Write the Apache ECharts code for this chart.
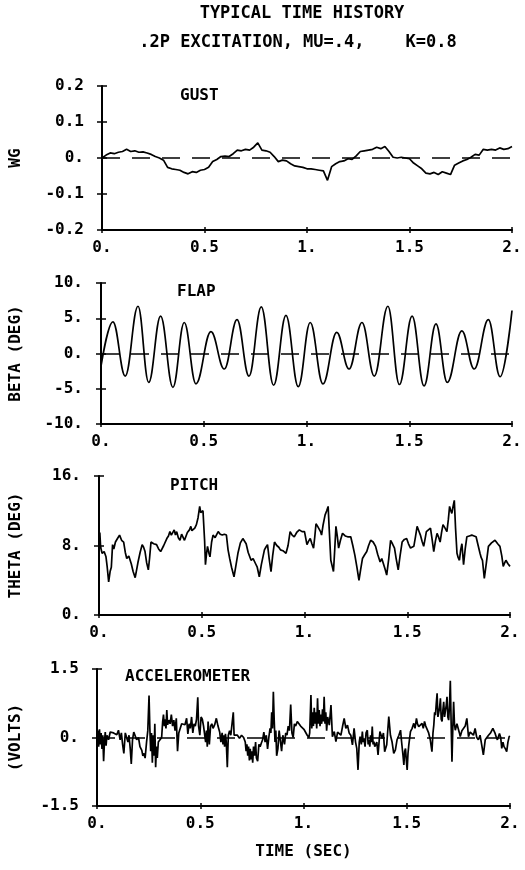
<!DOCTYPE html>
<html><head><meta charset="utf-8">
<script src="https://cdn.jsdelivr.net/npm/echarts@6/dist/echarts.min.js"></script>
<style>html,body{margin:0;padding:0;background:#fff}#c{width:525px;height:870px}</style>
</head><body><div id="c"></div>
<script>
// ---- tick labels ----
const xTickLabels = ['0.', '0.5', '1.', '1.5', '2.'];
const gustTickLabels = ['-0.2', '-0.1', '0.', '0.1', '0.2'];
const flapTickLabels = ['-10.', '-5.', '0.', '5.', '10.'];
const pitchTickLabels = ['0.', '8.', '16.'];
const accelTickLabels = ['-1.5', '0.', '1.5'];

// ---- series values: [time (sec), value] ----
const gustData = [
 [0.00,0.000],[0.02,0.008],[0.04,0.014],[0.06,0.012],[0.08,0.016],[0.10,0.018],[0.12,0.024],[0.14,0.018],
 [0.16,0.020],[0.18,0.016],[0.20,0.017],[0.22,0.014],[0.24,0.010],[0.26,0.004],[0.28,0.000],[0.30,-0.006],
 [0.32,-0.026],[0.34,-0.030],[0.36,-0.032],[0.38,-0.034],[0.40,-0.040],[0.42,-0.044],[0.44,-0.038],[0.46,-0.040],
 [0.48,-0.034],[0.50,-0.032],[0.52,-0.026],[0.54,-0.010],[0.56,-0.004],[0.58,0.004],[0.60,0.005],[0.62,0.004],
 [0.64,0.012],[0.66,0.022],[0.68,0.020],[0.70,0.024],[0.72,0.022],[0.74,0.030],[0.76,0.042],[0.78,0.022],
 [0.80,0.020],[0.82,0.016],[0.84,0.004],[0.86,-0.010],[0.88,-0.006],[0.90,-0.008],[0.92,-0.016],[0.94,-0.022],
 [0.96,-0.024],[0.98,-0.026],[1.00,-0.030],[1.02,-0.030],[1.04,-0.032],[1.06,-0.034],[1.08,-0.036],[1.10,-0.062],
 [1.12,-0.024],[1.14,-0.016],[1.16,-0.010],[1.18,-0.008],[1.20,-0.002],[1.22,-0.004],[1.24,0.006],[1.26,0.018],
 [1.28,0.020],[1.30,0.022],[1.32,0.024],[1.34,0.030],[1.36,0.026],[1.38,0.032],[1.40,0.018],[1.42,0.002],
 [1.44,0.000],[1.46,0.002],[1.48,0.000],[1.50,-0.002],[1.52,-0.014],[1.54,-0.022],[1.56,-0.030],[1.58,-0.042],
 [1.60,-0.044],[1.62,-0.040],[1.64,-0.046],[1.66,-0.038],[1.68,-0.042],[1.70,-0.046],[1.72,-0.020],[1.74,-0.014],
 [1.76,-0.008],[1.78,-0.004],[1.80,0.002],[1.82,0.010],[1.84,0.008],[1.86,0.024],[1.88,0.022],[1.90,0.024],
 [1.92,0.022],[1.94,0.028],[1.96,0.024],[1.98,0.026],[2.00,0.032]
];

const flapData = [
 [0.000,-1.8],[0.058,4.5],[0.118,-3.2],[0.180,6.7],[0.232,-4.1],[0.290,5.3],[0.350,-4.8],[0.405,4.4],
 [0.462,-4.3],[0.535,3.1],[0.600,-2.2],[0.662,4.8],[0.720,-3.2],[0.780,6.6],[0.840,-4.5],[0.900,5.4],
 [0.960,-4.7],[1.018,4.4],[1.080,-4.3],[1.147,3.0],[1.207,-2.2],[1.270,4.4],[1.330,-3.2],[1.396,6.7],
 [1.452,-4.4],[1.514,5.3],[1.572,-4.6],[1.630,4.2],[1.685,-4.1],[1.756,3.2],[1.816,-2.2],[1.885,4.8],
 [1.942,-3.3],[2.000,6.1]
];

const pitchData = [
 [0.000,8.0],[0.004,9.5],[0.008,7.8],[0.015,7.1],[0.025,7.3],[0.034,6.7],[0.040,5.5],[0.047,3.8],[0.054,5.0],
 [0.060,5.5],[0.066,8.1],[0.072,7.6],[0.080,8.4],[0.090,8.8],[0.100,9.2],[0.110,8.6],[0.120,8.4],[0.128,7.2],
 [0.135,6.5],[0.145,6.8],[0.157,5.9],[0.166,5.0],[0.176,4.3],[0.183,5.2],[0.190,6.1],[0.200,7.2],[0.210,8.1],
 [0.217,7.8],[0.224,7.3],[0.232,6.0],[0.240,5.2],[0.246,6.5],[0.253,8.4],[0.266,8.2],[0.280,8.1],[0.290,7.6],
 [0.300,7.3],[0.315,8.0],[0.330,8.8],[0.338,9.1],[0.345,9.6],[0.352,9.2],[0.360,9.0],[0.366,9.8],[0.372,9.2],
 [0.378,9.6],[0.386,8.9],[0.394,8.6],[0.402,9.3],[0.410,9.2],[0.416,8.6],[0.422,8.8],[0.430,9.5],[0.440,9.8],
 [0.447,10.2],[0.452,9.7],[0.458,9.6],[0.466,10.0],[0.474,10.4],[0.482,11.2],[0.490,12.5],[0.495,11.8],
 [0.500,11.7],[0.506,12.0],[0.510,11.9],[0.514,8.5],[0.518,5.8],[0.523,7.0],[0.528,7.9],[0.534,7.2],[0.540,6.7],
 [0.548,8.4],[0.555,9.2],[0.565,8.9],[0.580,9.6],[0.590,9.3],[0.600,9.2],[0.610,9.3],[0.620,9.2],[0.628,7.5],
 [0.636,6.5],[0.645,5.5],[0.657,4.4],[0.665,5.5],[0.676,7.1],[0.688,8.3],[0.700,8.8],[0.708,8.6],[0.716,8.2],
 [0.726,7.2],[0.740,6.3],[0.750,6.5],[0.762,5.9],[0.770,5.5],[0.780,4.4],[0.790,5.8],[0.805,7.5],[0.812,7.8],
 [0.820,8.1],[0.828,6.5],[0.837,5.0],[0.845,6.8],[0.854,8.4],[0.865,8.0],[0.875,7.8],[0.883,7.5],[0.895,7.4],
 [0.910,7.1],[0.920,8.0],[0.930,9.6],[0.940,9.2],[0.950,9.0],[0.962,9.5],[0.975,9.8],[0.988,9.6],[1.000,9.6],
 [1.012,8.1],[1.020,8.5],[1.028,8.8],[1.036,8.2],[1.044,7.7],[1.050,9.0],[1.056,10.5],[1.064,10.2],[1.072,10.0],
 [1.078,9.6],[1.083,9.2],[1.090,10.3],[1.100,11.5],[1.108,12.0],[1.115,12.5],[1.120,10.0],[1.128,6.3],
 [1.135,5.6],[1.141,5.0],[1.147,7.5],[1.153,10.2],[1.160,9.0],[1.166,7.7],[1.175,8.6],[1.185,9.4],[1.198,9.1],
 [1.210,9.0],[1.218,9.1],[1.225,9.0],[1.235,8.0],[1.245,6.9],[1.255,5.5],[1.265,4.0],[1.273,5.2],[1.282,6.5],
 [1.292,6.9],[1.303,7.3],[1.312,8.0],[1.322,8.6],[1.334,8.4],[1.346,7.9],[1.356,7.0],[1.368,6.1],[1.376,6.5],
 [1.383,6.3],[1.392,5.3],[1.400,4.6],[1.410,6.5],[1.419,8.6],[1.428,8.2],[1.438,7.7],[1.446,6.5],[1.456,5.2],
 [1.465,6.8],[1.475,8.4],[1.486,8.7],[1.497,8.8],[1.506,8.2],[1.516,7.7],[1.524,7.9],[1.532,7.9],[1.540,9.0],
 [1.548,10.2],[1.556,9.7],[1.564,9.2],[1.572,8.5],[1.580,7.9],[1.587,8.8],[1.593,9.6],[1.603,9.8],[1.613,10.0],
 [1.621,8.7],[1.629,7.3],[1.637,8.5],[1.645,9.4],[1.652,9.0],[1.660,8.4],[1.667,9.5],[1.674,10.4],[1.684,10.0],
 [1.693,9.6],[1.700,11.0],[1.706,12.5],[1.712,12.0],[1.717,11.7],[1.723,12.5],[1.729,13.2],[1.735,10.0],
 [1.742,7.1],[1.748,6.6],[1.754,6.3],[1.760,7.5],[1.766,8.2],[1.770,7.0],[1.774,5.8],[1.782,7.6],[1.790,9.0],
 [1.802,9.1],[1.814,9.2],[1.825,9.1],[1.835,9.0],[1.845,8.0],[1.854,7.1],[1.860,6.6],[1.866,6.3],[1.875,4.2],
 [1.885,6.0],[1.895,7.9],[1.910,8.3],[1.927,8.6],[1.940,8.2],[1.951,7.9],[1.960,6.8],[1.967,5.6],[1.974,6.0],
 [1.980,6.3],[1.990,5.9],[2.000,5.6]
];

const accelData = [
 [0.000,0.00],[0.004,0.15],[0.008,-0.20],[0.012,0.18],[0.016,-0.15],[0.020,0.10],[0.024,-0.25],[0.028,0.05],
 [0.032,-0.52],[0.036,-0.10],[0.040,0.12],[0.044,-0.18],[0.048,0.05],[0.056,-0.05],[0.064,0.12],[0.072,0.14],
 [0.080,0.10],[0.088,0.14],[0.096,0.06],[0.104,0.16],[0.112,-0.05],[0.118,0.10],[0.124,-0.15],[0.130,-0.35],
 [0.137,0.10],[0.145,0.12],[0.150,-0.10],[0.155,0.05],[0.161,-0.25],[0.166,-0.58],[0.172,-0.05],[0.178,0.12],
 [0.185,0.10],[0.192,-0.05],[0.201,0.00],[0.208,-0.20],[0.217,-0.28],[0.222,-0.40],[0.228,-0.35],[0.233,-0.45],
 [0.240,-0.10],[0.246,0.15],[0.252,0.92],[0.256,0.20],[0.260,-0.30],[0.264,0.10],[0.268,-0.55],[0.272,0.05],
 [0.276,-0.40],[0.280,0.30],[0.284,-0.65],[0.288,-0.20],[0.292,-0.45],[0.297,-0.10],[0.305,-0.05],[0.313,0.00],
 [0.318,0.35],[0.322,0.50],[0.326,0.25],[0.330,0.40],[0.334,0.20],[0.338,0.60],[0.342,0.28],[0.348,0.38],
 [0.354,0.30],[0.360,0.50],[0.366,0.25],[0.372,0.38],[0.378,0.15],[0.384,0.42],[0.390,-0.30],[0.396,0.10],
 [0.402,0.12],[0.410,0.30],[0.418,0.32],[0.426,0.28],[0.434,0.42],[0.440,0.08],[0.446,0.30],[0.452,0.20],
 [0.458,0.45],[0.464,0.10],[0.470,0.30],[0.476,0.25],[0.482,0.40],[0.488,0.88],[0.492,0.25],[0.498,0.05],
 [0.504,0.45],[0.510,0.40],[0.516,0.25],[0.522,0.22],[0.526,-0.10],[0.530,0.15],[0.534,-0.20],[0.538,0.35],
 [0.544,-0.15],[0.550,0.25],[0.556,0.30],[0.562,0.20],[0.570,0.28],[0.578,0.42],[0.586,0.25],[0.594,0.12],
 [0.600,-0.10],[0.606,0.10],[0.610,-0.15],[0.614,0.05],[0.618,-0.20],[0.622,0.08],[0.626,-0.10],[0.631,-0.65],
 [0.636,0.05],[0.642,0.15],[0.648,0.05],[0.654,0.02],[0.660,0.55],[0.664,0.05],[0.672,0.02],[0.680,0.05],
 [0.690,-0.02],[0.700,0.05],[0.710,0.00],[0.718,-0.10],[0.722,-0.30],[0.726,-0.15],[0.730,-0.40],[0.734,-0.20],
 [0.738,-0.50],[0.742,-0.25],[0.746,-0.48],[0.750,-0.30],[0.754,-0.55],[0.758,-0.20],[0.763,-0.40],[0.768,-0.10],
 [0.772,-0.45],[0.778,-0.52],[0.784,-0.15],[0.790,-0.20],[0.796,-0.12],[0.802,-0.05],[0.808,0.12],[0.814,-0.10],
 [0.820,0.05],[0.826,-0.25],[0.832,0.00],[0.838,0.20],[0.842,0.10],[0.846,0.55],[0.850,0.20],[0.854,1.00],
 [0.858,0.40],[0.862,-0.10],[0.866,0.15],[0.870,-0.40],[0.876,-0.25],[0.882,0.15],[0.888,0.12],[0.894,-0.30],
 [0.900,0.05],[0.908,-0.15],[0.914,0.10],[0.920,0.05],[0.926,0.25],[0.932,0.15],[0.938,0.72],[0.944,0.10],
 [0.950,0.00],[0.956,0.30],[0.962,0.25],[0.970,0.35],[0.978,0.30],[0.986,0.25],[0.994,0.22],[1.002,0.18],
 [1.010,0.15],[1.018,0.05],[1.026,0.00],[1.030,0.10],[1.036,0.93],[1.040,0.20],[1.044,0.55],[1.048,0.25],
 [1.052,0.65],[1.056,0.30],[1.060,0.55],[1.064,0.20],[1.068,0.86],[1.072,0.30],[1.076,0.60],[1.080,0.25],
 [1.084,0.50],[1.088,0.30],[1.092,0.62],[1.096,0.35],[1.100,0.89],[1.104,0.30],[1.108,0.55],[1.112,0.15],
 [1.117,0.45],[1.125,0.27],[1.133,0.71],[1.140,0.02],[1.149,0.13],[1.157,-0.09],[1.165,0.12],[1.173,0.16],
 [1.181,0.05],[1.189,0.24],[1.197,0.42],[1.205,0.20],[1.213,0.27],[1.221,0.10],[1.229,0.05],[1.237,-0.16],
 [1.245,0.20],[1.252,-0.10],[1.258,-0.24],[1.264,-0.71],[1.270,-0.10],[1.274,0.02],[1.280,-0.15],[1.285,0.13],
 [1.289,-0.10],[1.293,-0.02],[1.298,-0.20],[1.303,0.10],[1.309,0.16],[1.313,-0.15],[1.317,-0.05],[1.321,-0.20],
 [1.325,0.05],[1.329,-0.10],[1.333,0.24],[1.337,-0.15],[1.341,-0.09],[1.345,-0.20],[1.349,-0.24],[1.355,-0.10],
 [1.361,-0.38],[1.370,0.13],[1.376,0.05],[1.381,-0.02],[1.387,0.10],[1.393,-0.31],[1.403,-0.16],[1.413,0.46],
 [1.421,0.05],[1.429,-0.10],[1.437,-0.35],[1.445,-0.27],[1.453,-0.05],[1.462,0.05],[1.470,0.16],[1.474,-0.05],
 [1.478,-0.09],[1.482,-0.40],[1.486,-0.60],[1.490,-0.30],[1.494,-0.24],[1.498,-0.50],[1.502,-0.71],[1.506,-0.35],
 [1.510,-0.16],[1.518,0.13],[1.526,0.20],[1.534,0.31],[1.540,0.20],[1.547,0.42],[1.552,0.30],[1.558,0.24],
 [1.566,0.28],[1.574,0.31],[1.580,0.20],[1.586,0.35],[1.592,0.25],[1.598,0.27],[1.606,0.10],[1.614,-0.05],
 [1.622,-0.31],[1.627,0.10],[1.631,0.27],[1.635,0.55],[1.639,0.49],[1.643,0.75],[1.647,0.97],[1.651,0.45],
 [1.655,0.49],[1.659,0.65],[1.663,0.86],[1.667,0.40],[1.671,0.35],[1.675,0.60],[1.679,0.78],[1.683,0.45],
 [1.687,0.49],[1.691,0.70],[1.695,0.89],[1.699,0.45],[1.703,0.38],[1.707,0.70],[1.711,1.24],[1.715,0.30],
 [1.719,-0.53],[1.723,0.20],[1.727,0.78],[1.731,0.30],[1.735,0.16],[1.743,0.30],[1.751,0.27],[1.755,0.10],
 [1.759,0.02],[1.767,0.15],[1.775,0.13],[1.783,0.25],[1.791,0.42],[1.799,0.02],[1.807,0.12],[1.815,0.09],
 [1.823,0.05],[1.831,0.20],[1.839,0.00],[1.847,-0.05],[1.855,0.05],[1.863,-0.16],[1.871,-0.38],[1.880,-0.05],
 [1.888,0.00],[1.896,0.05],[1.906,0.10],[1.917,0.20],[1.928,0.09],[1.934,0.00],[1.939,-0.05],[1.949,0.09],
 [1.955,0.00],[1.960,-0.24],[1.966,-0.10],[1.971,-0.20],[1.978,-0.25],[1.984,-0.31],[1.990,-0.10],[1.996,0.02],
 [2.000,0.03]
];

// ---- layout / styling ----
const FONT = 'DejaVu Sans Mono';
const FS = 16;
const txt = { fontFamily: FONT, fontSize: FS, fontWeight: 'bold', color: '#000' };

const panels = [
  { grid: { left: 100, right: 13, top: 86, height: 144 }, min: -0.2, max: 0.2, interval: 0.1,
    labels: gustTickLabels, name: 'WG', nameGap: 78, data: gustData, zero: true, smooth: false,
    tag: 'GUST', tx: 180, ty: 97, xName: '' },
  { grid: { left: 99, right: 13, top: 283, height: 141 }, min: -10, max: 10, interval: 5,
    labels: flapTickLabels, name: 'BETA (DEG)', nameGap: 77, data: flapData, zero: true, smooth: true,
    tag: 'FLAP', tx: 177, ty: 293, xName: '' },
  { grid: { left: 97, right: 15, top: 476, height: 139 }, min: 0, max: 16, interval: 8,
    labels: pitchTickLabels, name: 'THETA (DEG)', nameGap: 75, data: pitchData, zero: false, smooth: false,
    tag: 'PITCH', tx: 170, ty: 487, xName: '' },
  { grid: { left: 95, right: 15, top: 669, height: 137 }, min: -1.5, max: 1.5, interval: 1.5,
    labels: accelTickLabels, name: '(VOLTS)', nameGap: 73, data: accelData, zero: true, smooth: false,
    tag: 'ACCELEROMETER', tx: 125, ty: 678, xName: 'TIME (SEC)' }
];

const grid = [], xAxis = [], yAxis = [], series = [], graphic = [];
panels.forEach((p, i) => {
  grid.push(p.grid);
  const xBase = { type: 'value', gridIndex: i, position: 'bottom', min: 0, max: 2, interval: 0.5, splitLine: { show: false } };
  xAxis.push(Object.assign({}, xBase, {
    axisLine: { onZero: false, lineStyle: { color: '#000', width: 2 } },
    axisTick: { show: true, length: 3, lineStyle: { color: '#000', width: 1.5 } },
    axisLabel: Object.assign({ margin: 10, formatter: (v, idx) => xTickLabels[idx] }, txt),
    name: p.xName, nameLocation: 'middle', nameGap: 38, nameTextStyle: txt
  }));
  xAxis.push(Object.assign({}, xBase, {
    axisLine: { show: false, onZero: false },
    axisTick: { show: true, inside: true, length: 3, lineStyle: { color: '#000', width: 1.5 } },
    axisLabel: { show: false }
  }));
  const yBase = { type: 'value', gridIndex: i, position: 'left', min: p.min, max: p.max, interval: p.interval, splitLine: { show: false } };
  yAxis.push(Object.assign({}, yBase, {
    axisLine: { show: true, onZero: false, lineStyle: { color: '#000', width: 2 } },
    axisTick: { show: true, length: 5, lineStyle: { color: '#000', width: 1.5 } },
    axisLabel: Object.assign({ margin: 18, formatter: (v, idx) => p.labels[idx] }, txt),
    name: p.name, nameLocation: 'middle', nameGap: p.nameGap, nameTextStyle: txt
  }));
  yAxis.push(Object.assign({}, yBase, {
    axisLine: { show: false, onZero: false },
    axisTick: { show: true, inside: true, length: 5, lineStyle: { color: '#000', width: 1.5 } },
    axisLabel: { show: false }
  }));
  const s = {
    type: 'line', xAxisIndex: 2 * i, yAxisIndex: 2 * i, data: p.data,
    showSymbol: false, symbol: 'none', animation: false, silent: true,
    lineStyle: { color: '#000', width: 1.7 }
  };
  if (p.smooth) { s.smooth = 0.4; s.smoothMonotone = 'x'; }
  if (p.zero) {
    s.markLine = {
      silent: true, symbol: 'none', animation: false, label: { show: false },
      lineStyle: { color: '#000', width: 1.5, type: [18, 12] },
      data: [{ yAxis: 0 }]
    };
  }
  series.push(s);
  graphic.push({ type: 'text', left: p.tx, top: p.ty - 9, style: Object.assign({ text: p.tag }, txt, { fill: '#000' }) });
});

graphic.push({ type: 'text', x: 302, y: 14, style: { text: 'TYPICAL TIME HISTORY', font: 'bold 17px ' + FONT, fill: '#000', textAlign: 'center', textVerticalAlign: 'middle' } });
graphic.push({ type: 'text', x: 298, y: 43, style: { text: '.2P EXCITATION, MU=.4,    K=0.8', font: 'bold 17px ' + FONT, fill: '#000', textAlign: 'center', textVerticalAlign: 'middle' } });

const chart = echarts.init(document.getElementById('c'), null, { renderer: 'canvas' });
chart.setOption({ animation: false, backgroundColor: '#fff', grid, xAxis, yAxis, series, graphic });
</script></body></html>
